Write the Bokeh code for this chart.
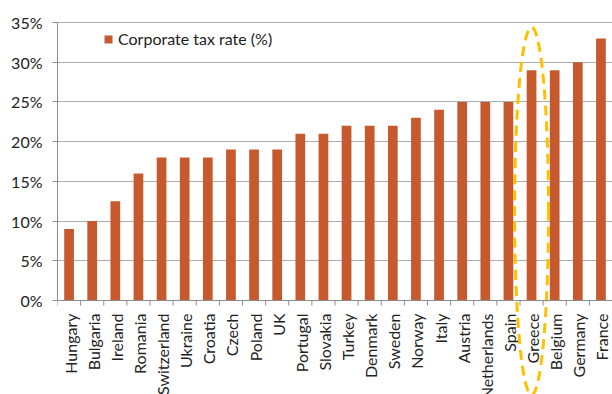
import math
from bokeh.plotting import figure
from bokeh.models import Range1d, FixedTicker, Legend, LegendItem, ColumnDataSource, Span
from bokeh.core.properties import value
from bokeh.embed import file_html
from bokeh.resources import INLINE

countries = ["Hungary", "Bulgaria", "Ireland", "Romania", "Switzerland", "Ukraine",
             "Croatia", "Czech", "Poland", "UK", "Portugal", "Slovakia", "Turkey",
             "Denmark", "Sweden", "Norway", "Italy", "Austria", "Netherlands", "Spain",
             "Greece", "Belgium", "Germany", "France"]
tax_rate = [9, 10, 12.5, 16, 18, 18, 18, 19, 19, 19, 21, 21, 22, 22, 22, 23, 24,
            25, 25, 25, 29, 29, 30, 33]
y_ticks = [0, 5, 10, 15, 20, 25, 30, 35]
y_tick_labels = ["0%", "5%", "10%", "15%", "20%", "25%", "30%", "35%"]
highlight = "Greece"

FONT = "Lato"
BAR = "#C65A2E"
GRID = "#ADADAD"
AXIS = "#8C8C8C"

# layout: 35% at pixel 22, 0% at pixel 300 in a 394-px-tall frame
px_per = 278 / 35.0
y_top = 35 + 22 / px_per
y_bot = -(394 - 300) / px_per

n = len(countries)
xs = [i + 0.5 for i in range(n)]
src = ColumnDataSource(dict(x=xs, top=tax_rate, name=countries))

p = figure(width=612, height=394, output_backend="svg", toolbar_location=None,
           x_range=Range1d(0, n), y_range=Range1d(y_bot, y_top),
           x_axis_location=None, min_border_left=57, min_border_right=0,
           min_border_top=0, min_border_bottom=0)
p.outline_line_color = None
p.background_fill_color = "white"
p.border_fill_color = "white"

p.xgrid.visible = False
p.ygrid.ticker = FixedTicker(ticks=y_ticks[1:])
p.ygrid.grid_line_color = GRID
p.ygrid.grid_line_width = 1

ax = p.yaxis[0]
ax.ticker = FixedTicker(ticks=y_ticks)
ax.major_label_overrides = {t: l for t, l in zip(y_ticks, y_tick_labels)}
ax.bounds = (0, 35)
ax.axis_line_color = AXIS
ax.major_tick_line_color = AXIS
ax.major_tick_out = 5
ax.major_tick_in = 0
ax.minor_tick_line_color = None
ax.major_label_standoff = 10
ax.major_label_text_font = FONT
ax.major_label_text_font_size = "16px"
ax.major_label_text_color = "#222222"

p.add_layout(Span(location=0, dimension="width", line_color=AXIS, line_width=1))

# category boundary ticks
tick_len = 5 / px_per
p.segment(x0=list(range(n + 1)), x1=list(range(n + 1)), y0=[0] * (n + 1),
          y1=[-tick_len] * (n + 1), line_color=AXIS, line_width=1)

bars = p.vbar(x="x", top="top", bottom=0, width=0.42, source=src,
              fill_color=BAR, line_color=None)

p.text(x="x", y=0, text="name", source=src, angle=math.pi / 2,
       text_align="right", text_baseline="middle", y_offset=13, x_offset=1,
       text_font=value(FONT), text_font_size="16px", text_color="#222222")

# dashed highlight ellipse around the highlighted country
gi = countries.index(highlight)
e_top, e_bot = 34.4, -11.9
p.ellipse(x=[gi + 0.5], y=[(e_top + e_bot) / 2], width=34, height=e_top - e_bot,
          width_units="screen", fill_color=None, line_color="#FFC000",
          line_width=3, line_dash="10 6")

legend = Legend(items=[LegendItem(label="Corporate tax rate (%)", renderers=[bars])],
                location=(46, 346), border_line_color=None,
                background_fill_alpha=0, padding=0, margin=0,
                glyph_width=10, glyph_height=10, label_standoff=5,
                label_text_font=FONT, label_text_font_size="16px",
                label_text_color="#222222")
p.add_layout(legend)

open("out.html", "w").write(file_html(p, INLINE))
